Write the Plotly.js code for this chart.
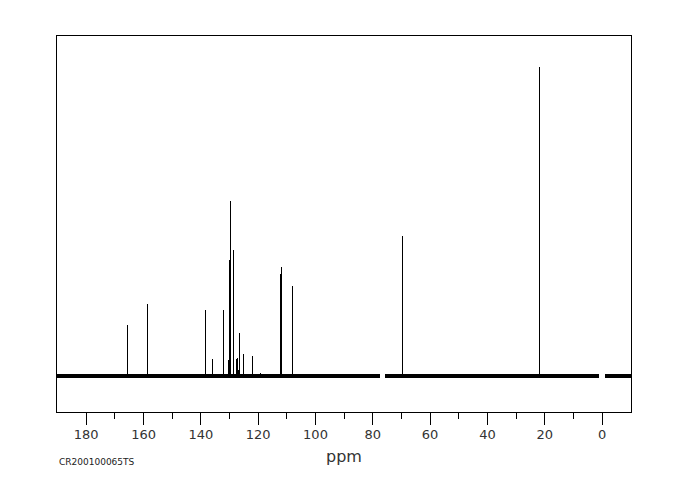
<!DOCTYPE html>
<html>
<head>
<meta charset="utf-8">
<script src="https://cdn.plot.ly/plotly-3.0.1.min.js"></script>
<style>html,body{margin:0;padding:0;background:#fff;}#chart{width:680px;height:500px;}
#chart .js-line{shape-rendering:crispEdges;}</style>
</head>
<body>
<div id="chart"></div>
<script>
// Peak positions (ppm) and relative intensities (tallest = 100)
const peakPpm = [165.45, 158.46, 138.43, 135.78, 131.94, 130.19, 129.84, 129.49, 128.45, 127.40, 127.05, 126.70, 126.35, 124.96, 122.09, 119.30, 112.25, 111.97, 107.85, 69.81, 21.99];
const peakHeight = [16.7, 23.4, 21.5, 5.7, 21.5, 5.3, 37.7, 56.8, 40.9, 5.7, 6.0, 2.1, 14.1, 7.3, 6.6, 1.1, 33.1, 35.5, 29.3, 45.4, 100];
// Baseline segments (ppm) - gaps where the spectrum is blanked
const baselineStart = [190.2, 75.8, -0.95];
const baselineEnd = [77.6, 1.05, -10.1];
// Axis ticks
const majorTicks = [180, 160, 140, 120, 100, 80, 60, 40, 20, 0];
const majorTickLabels = ["180", "160", "140", "120", "100", "80", "60", "40", "20", "0"];
const minorTicks = [170, 150, 130, 110, 90, 70, 50, 30, 10];
const sampleId = "CR200100065TS";
const xLabel = "ppm";

const px = [], py = [];
peakPpm.forEach((p, i) => { px.push(p, p, null); py.push(0, peakHeight[i], null); });
const bx = [], by = [];
baselineStart.forEach((s, i) => { bx.push(s, baselineEnd[i], null); by.push(0, 0, null); });

const traces = [
  {x: bx, y: by, type: 'scatter', mode: 'lines', line: {color: '#000', width: 4}, hoverinfo: 'skip', showlegend: false},
  {x: px, y: py, type: 'scatter', mode: 'lines', line: {color: '#000', width: 1}, hoverinfo: 'skip', showlegend: false}
];

const layout = {
  width: 680, height: 500,
  margin: {l: 57, r: 49, t: 36, b: 88},
  paper_bgcolor: '#fff', plot_bgcolor: '#fff',
  showlegend: false,
  xaxis: {
    range: [190.2, -10.1],
    showgrid: false, zeroline: false,
    showline: true, linecolor: '#000', linewidth: 1, mirror: true,
    ticks: 'outside', ticklen: 12, tickwidth: 1, tickcolor: '#000',
    tickmode: 'array', tickvals: majorTicks, ticktext: majorTickLabels,
    ticklabelstandoff: -2,
    minor: {tickmode: 'array', tickvals: minorTicks, ticks: 'outside', ticklen: 6, tickcolor: '#000', tickwidth: 1, showgrid: false},
    tickfont: {family: 'DejaVu Sans', size: 13, color: '#333'},
    title: {text: xLabel, font: {family: 'DejaVu Sans', size: 16, color: '#333'}, standoff: 10}
  },
  yaxis: {
    range: [-11.5, 110.1],
    showgrid: false, zeroline: false,
    showline: true, linecolor: '#000', linewidth: 1, mirror: true,
    ticks: '', showticklabels: false
  },
  annotations: [{
    text: sampleId, xref: 'paper', yref: 'paper', x: 0, y: -0.133,
    xanchor: 'left', yanchor: 'middle', showarrow: false,
    font: {family: 'DejaVu Sans', size: 9, color: '#222'}
  }]
};

Plotly.newPlot('chart', traces, layout, {displayModeBar: false, staticPlot: true});
</script>
</body>
</html>
